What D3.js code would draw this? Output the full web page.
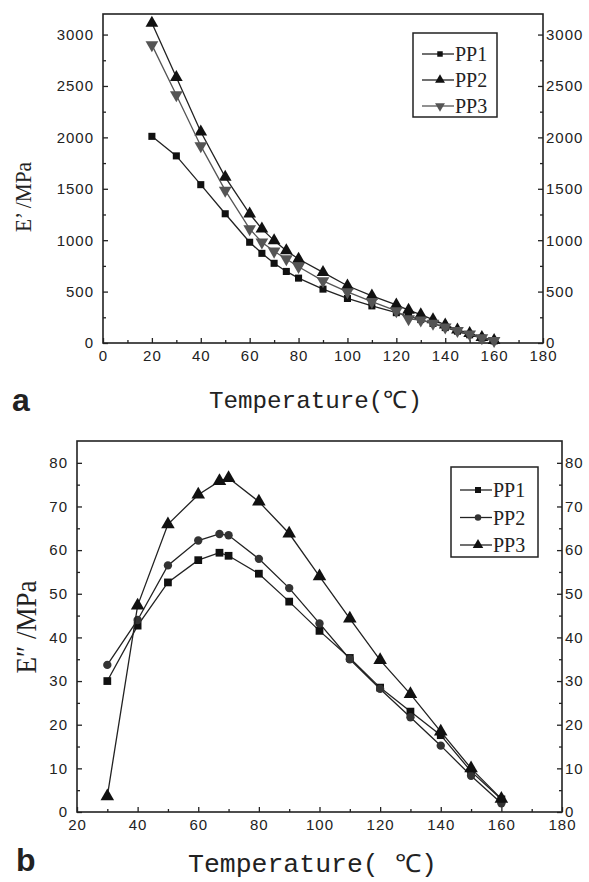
<!DOCTYPE html>
<html>
<head>
<meta charset="utf-8">
<script src="https://cdn.jsdelivr.net/npm/d3@7"></script>
<style>
  body { margin: 0; background: #fff; }
  svg text { fill: #222; }
  .tick-lab { font-family: "Liberation Sans", Arial, sans-serif; font-size: 15px; letter-spacing: 1px; }
</style>
</head>
<body>
<div id="chart"></div>
<script>
// panel a: storage modulus E'
const tempA = [20, 30, 40, 50, 60, 65, 70, 75, 80, 90, 100, 110, 120, 125, 130, 135, 140, 145, 150, 155, 160];
const pp1A = [2010, 1820, 1540, 1257, 980, 872, 775, 696, 631, 524, 433, 361, 295, 260, 228, 190, 150, 115, 80, 48, 20];
const pp2A = [3112, 2585, 2054, 1614, 1257, 1110, 996, 898, 817, 687, 557, 459, 371, 319, 276, 228, 176, 128, 93, 56, 26];
const pp3A = [2900, 2412, 1917, 1484, 1110, 980, 892, 817, 742, 605, 498, 403, 313, 235, 222, 190, 155, 120, 85, 50, 22];

// panel b: loss modulus E''
const tempB = [30, 40, 50, 60, 67, 70, 80, 90, 100, 110, 120, 130, 140, 150, 160];
const pp1B = [30.0, 42.7, 52.6, 57.7, 59.4, 58.7, 54.6, 48.2, 41.5, 35.3, 28.5, 23.0, 17.6, 9.3, 2.9];
const pp2B = [33.7, 44.0, 56.5, 62.2, 63.7, 63.4, 58.0, 51.3, 43.2, 35.0, 28.2, 21.7, 15.2, 8.3, 2.0];
const pp3B = [3.6, 47.3, 65.9, 72.7, 75.8, 76.5, 71.1, 63.8, 54.0, 44.3, 34.8, 27.0, 18.4, 10.0, 3.0];

const seriesNames = ["PP1", "PP2", "PP3"];
const ticksXA = d3.range(0, 181, 20), minorXA = d3.range(10, 180, 20);
const ticksYA = d3.range(0, 3001, 500), minorYA = d3.range(250, 3200, 500);
const ticksXB = d3.range(20, 181, 20), minorXB = d3.range(30, 180, 20);
const ticksYB = d3.range(0, 81, 10), minorYB = d3.range(5, 85, 10);

const width = 589, height = 882;

const svg = d3.select("#chart").append("svg")
    .attr("width", width)
    .attr("height", height)
    .attr("viewBox", [0, 0, width, height]);

const sq = d3.symbol().type(d3.symbolSquare);
const tri = d3.symbol().type(d3.symbolTriangle);
const circ = d3.symbol().type(d3.symbolCircle);
const fmt = d3.format("d");

function drawPanel(cfg) {
    const x = d3.scaleLinear().domain(cfg.xDomain).range([cfg.left, cfg.right]);
    const y = d3.scaleLinear().domain(cfg.yDomain).range([cfg.bottom, cfg.top]);
    const g = svg.append("g");

    // axes with inward ticks
    const axes = [
        [d3.axisBottom(x).tickValues(cfg.xTicks).tickFormat(fmt).tickSize(-5).tickPadding(7), `translate(0,${cfg.bottom})`],
        [d3.axisBottom(x).tickValues(cfg.xMinor).tickSize(-3).tickFormat(""), `translate(0,${cfg.bottom})`],
        [d3.axisLeft(y).tickValues(cfg.yTicks).tickFormat(fmt).tickSize(-5).tickPadding(cfg.padL), `translate(${cfg.left},0)`],
        [d3.axisLeft(y).tickValues(cfg.yMinor).tickSize(-3).tickFormat(""), `translate(${cfg.left},0)`],
        [d3.axisRight(y).tickValues(cfg.yTicks).tickFormat(fmt).tickSize(-5).tickPadding(cfg.padR), `translate(${cfg.right},0)`],
        [d3.axisRight(y).tickValues(cfg.yMinor).tickSize(-3).tickFormat(""), `translate(${cfg.right},0)`]
    ];
    for (const [ax, tr] of axes) {
        const a = g.append("g").attr("transform", tr).call(ax);
        a.select(".domain").remove();
        a.selectAll("line").attr("stroke", "#222").attr("stroke-width", 1.3);
        a.selectAll("text").attr("class", "tick-lab").attr("fill", "#222");
    }

    g.append("rect")
        .attr("x", cfg.left).attr("y", cfg.top)
        .attr("width", cfg.right - cfg.left).attr("height", cfg.bottom - cfg.top)
        .attr("fill", "none").attr("stroke", "#222").attr("stroke-width", 1.6);

    const line = d3.line().x(d => x(d[0])).y(d => y(d[1]));

    cfg.series.forEach(s => {
        const pts = d3.zip(cfg.xs, s.values);
        g.append("path")
            .datum(pts)
            .attr("fill", "none")
            .attr("stroke", s.color)
            .attr("stroke-width", 1.3)
            .attr("d", line);
        g.append("g").selectAll("path")
            .data(pts)
            .join("path")
            .attr("transform", d => `translate(${x(d[0])},${y(d[1])})${s.flip ? " rotate(180)" : ""}`)
            .attr("d", s.symbol.size(s.size)())
            .attr("fill", s.fill);
    });

    // legend
    const lg = g.append("g");
    lg.append("rect")
        .attr("x", cfg.legend.x).attr("y", cfg.legend.y)
        .attr("width", cfg.legend.w).attr("height", cfg.legend.h)
        .attr("fill", "#fff").attr("stroke", "#222").attr("stroke-width", 1.5);
    cfg.series.forEach((s, i) => {
        const ly = cfg.legend.y + cfg.legend.first + i * cfg.legend.step;
        const lx = cfg.legend.x + 9;
        lg.append("line")
            .attr("x1", lx).attr("x2", lx + 32)
            .attr("y1", ly).attr("y2", ly)
            .attr("stroke", s.color).attr("stroke-width", 1.3);
        lg.append("path")
            .attr("transform", `translate(${lx + 18},${ly})${s.flip ? " rotate(180)" : ""}`)
            .attr("d", s.symbol.size(s.size * 0.6)())
            .attr("fill", s.fill);
        lg.append("text")
            .attr("x", lx + 33).attr("y", ly + 7)
            .style("font-family", "'Liberation Serif', 'Times New Roman', serif")
            .style("font-size", "20px")
            .text(s.name);
    });

    // y title
    g.append("text")
        .attr("transform", `translate(${cfg.yTitle.x},${cfg.yTitle.y}) rotate(-90)`)
        .attr("text-anchor", "middle")
        .attr("textLength", cfg.yTitle.len)
        .attr("lengthAdjust", "spacingAndGlyphs")
        .style("font-family", "'Liberation Serif', 'Times New Roman', serif")
        .style("font-size", cfg.yTitle.size + "px")
        .text(cfg.yTitle.text);

    // x title
    g.append("text")
        .attr("x", cfg.xTitle.x).attr("y", cfg.xTitle.y)
        .attr("textLength", cfg.xTitle.len)
        .attr("lengthAdjust", "spacingAndGlyphs")
        .style("font-family", "'Liberation Mono', 'Courier New', monospace")
        .style("font-size", cfg.xTitle.size + "px")
        .text(cfg.xTitle.text);

    // panel letter
    g.append("text")
        .attr("x", cfg.letter.x).attr("y", cfg.letter.y)
        .style("font-family", "'Liberation Sans', Arial, sans-serif")
        .style("font-weight", "bold")
        .style("font-size", "32px")
        .attr("fill", "#111")
        .text(cfg.letter.text);
}

drawPanel({
    xDomain: [0, 180], yDomain: [0, 3200],
    left: 103, right: 543, top: 14, bottom: 343,
    xTicks: ticksXA, xMinor: minorXA, yTicks: ticksYA, yMinor: minorYA,
    padL: 9, padR: 3,
    xs: tempA,
    series: [
        { name: seriesNames[0], values: pp1A, symbol: sq, size: 50, fill: "#111", color: "#222" },
        { name: seriesNames[1], values: pp2A, symbol: tri, size: 70, fill: "#111", color: "#222" },
        { name: seriesNames[2], values: pp3A, symbol: tri, size: 70, fill: "#555", color: "#555", flip: true }
    ],
    legend: { x: 413, y: 33, w: 84, h: 84, first: 21, step: 26 },
    yTitle: { x: 31, y: 197, text: "E’ /MPa", size: 24, len: 70 },
    xTitle: { x: 209, y: 408, text: "Temperature(℃)", size: 24, len: 213 },
    letter: { x: 12, y: 411, text: "a" }
});

drawPanel({
    xDomain: [20, 180], yDomain: [0, 85],
    left: 77, right: 562, top: 441, bottom: 812,
    xTicks: ticksXB, xMinor: minorXB, yTicks: ticksYB, yMinor: minorYB,
    padL: 9, padR: 3,
    xs: tempB,
    series: [
        { name: seriesNames[0], values: pp1B, symbol: sq, size: 60, fill: "#111", color: "#222" },
        { name: seriesNames[1], values: pp2B, symbol: circ, size: 55, fill: "#333", color: "#222" },
        { name: seriesNames[2], values: pp3B, symbol: tri, size: 80, fill: "#111", color: "#222" }
    ],
    legend: { x: 451, y: 467, w: 87, h: 90, first: 23, step: 27.5 },
    yTitle: { x: 36, y: 627, text: "E″ /MPa", size: 30, len: 93 },
    xTitle: { x: 188, y: 872, text: "Temperature( ℃)", size: 25, len: 249 },
    letter: { x: 16, y: 871, text: "b" }
});
</script>
</body>
</html>
